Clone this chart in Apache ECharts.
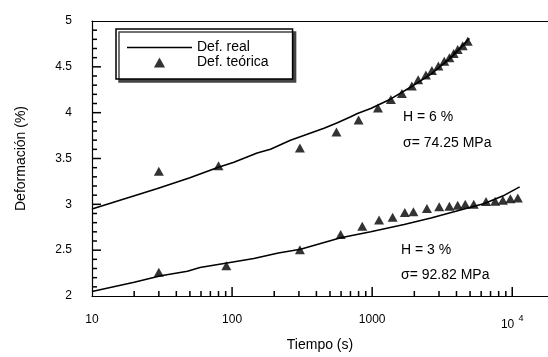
<!DOCTYPE html>
<html><head><meta charset="utf-8">
<script src="https://cdn.jsdelivr.net/npm/echarts@6/dist/echarts.min.js"></script>
<style>html,body{margin:0;padding:0;background:#fff}#c{width:548px;height:357px}</style>
</head><body><div id="c"></div>
<script>
// ---- data ----
const xLabelValues = [10, 100, 1000, 10000];
const xMajorTicks = [100, 1000, 10000];
const xMinorTicks = [20, 30, 40, 50, 60, 70, 80, 90, 200, 300, 400, 500, 600, 700, 800, 900, 2000, 3000, 4000, 5000, 6000, 7000, 8000, 9000];
const yMajorTicks = [2.5, 3, 3.5, 4, 4.5];
const yMinorTicks = [2.1, 2.2, 2.3, 2.4, 2.6, 2.7, 2.8, 2.9, 3.1, 3.2, 3.3, 3.4, 3.6, 3.7, 3.8, 3.9, 4.1, 4.2, 4.3, 4.4, 4.6, 4.7, 4.8, 4.9];

const realHighT = [10, 29, 50, 78, 103, 151, 188, 261, 453, 565, 703, 785, 977, 1359, 1888, 2630, 3657, 4945];
const realHighV = [2.95, 3.17, 3.29, 3.40, 3.46, 3.56, 3.60, 3.70, 3.83, 3.89, 3.955, 3.99, 4.045, 4.15, 4.28, 4.42, 4.60, 4.81];
const theoHighT = [30, 80, 305, 556, 800, 1100, 1360, 1630, 1920, 2130, 2420, 2670, 2970, 3270, 3560, 3820, 4080, 4430, 4810];
const theoHighV = [3.36, 3.42, 3.615, 3.79, 3.92, 4.05, 4.145, 4.21, 4.29, 4.36, 4.41, 4.46, 4.51, 4.56, 4.60, 4.645, 4.69, 4.73, 4.78];

const realLowT = [10, 20, 31, 48, 59, 92, 143, 214, 308, 596, 977, 1690, 2630, 4080, 6330, 8800, 11300];
const realLowV = [2.05, 2.15, 2.22, 2.27, 2.31, 2.36, 2.41, 2.47, 2.51, 2.635, 2.70, 2.78, 2.85, 2.93, 3.01, 3.10, 3.19];
const theoLowT = [30, 91, 305, 596, 850, 1120, 1400, 1710, 1970, 2460, 3010, 3560, 4080, 4620, 5310, 6500, 7550, 8570, 9700, 10960];
const theoLowV = [2.26, 2.33, 2.505, 2.67, 2.76, 2.83, 2.86, 2.91, 2.92, 2.955, 2.975, 2.98, 2.99, 3.0, 3.0, 3.03, 3.035, 3.045, 3.06, 3.07];

const zip = (a, b) => a.map((v, i) => [v, b[i]]);
const FONT = '"Liberation Sans", Arial, Helvetica, sans-serif';
const X_MIN = 10, X_MAX = 18000, Y_MIN = 2, Y_MAX = 5;

const chart = echarts.init(document.getElementById('c'), null, {renderer: 'canvas'});
const lineS = (data) => ({
  type: 'line', name: 'Def. real', data, symbol: 'none', showSymbol: false, smooth: false,
  lineStyle: {color: '#000', width: 1.6}, itemStyle: {color: '#000'}, z: 3
});
const scatS = (data) => ({
  type: 'scatter', name: 'Def. teórica', data, symbol: 'triangle', symbolSize: [10, 9],
  itemStyle: {color: '#000'}, z: 4
});
// tick marks placed through the axis scales (custom series)
const tickSeries = (data, dx, dy) => ({
  type: 'custom', silent: true, clip: false, z: 6, legendHoverLink: false,
  data,
  renderItem: (params, api) => {
    const p = api.coord([api.value(0), api.value(1)]);
    return {type: 'line', shape: {x1: p[0], y1: p[1], x2: p[0] + dx, y2: p[1] + dy},
            style: {stroke: '#000', lineWidth: 1.5}};
  }
});

chart.setOption({
  animation: false,
  backgroundColor: '#fff',
  textStyle: {fontFamily: FONT},
  grid: {left: 92, right: 0, top: 21, bottom: 56, containLabel: false},
  legend: {
    orient: 'vertical', left: 116, top: 29,
    padding: [11, 24, 9, 11], itemGap: 0, itemWidth: 65, itemHeight: 10,
    backgroundColor: '#fff', borderColor: '#000', borderWidth: 1.5, borderRadius: 0,
    shadowColor: '#444', shadowBlur: 0, shadowOffsetX: 3, shadowOffsetY: 3,
    symbolKeepAspect: true,
    textStyle: {color: '#000', fontSize: 14, fontFamily: FONT, lineHeight: 15},
    data: [
      {name: 'Def. real', icon: 'path://M0,0h65v1.6h-65z', itemStyle: {color: '#000'}},
      {name: 'Def. teórica', icon: 'path://M5,0L10,9L0,9Z', itemStyle: {color: '#000'}}
    ]
  },
  xAxis: [
    {
      type: 'log', logBase: 10, min: X_MIN, max: X_MAX, position: 'bottom',
      axisLine: {lineStyle: {color: '#000', width: 1.2}},
      axisTick: {show: false},
      axisLabel: {
        customValues: xLabelValues, margin: 18, color: '#000', fontSize: 12, fontFamily: FONT,
        formatter: (v) => v >= 10000 ? '10 {sup|4}' : String(Math.round(v)),
        rich: {sup: {fontSize: 9, fontFamily: FONT, color: '#000', padding: [0, 0, 12, 1]}}
      },
      splitLine: {show: false},
      name: 'Tiempo (s)', nameLocation: 'middle', nameGap: 42,
      nameTextStyle: {color: '#000', fontSize: 14, fontFamily: FONT}
    },
    {
      type: 'log', logBase: 10, min: X_MIN, max: X_MAX, position: 'top',
      axisLine: {lineStyle: {color: '#000', width: 1.2}},
      axisTick: {show: false}, axisLabel: {show: false}, splitLine: {show: false}
    }
  ],
  yAxis: {
    type: 'value', min: Y_MIN, max: Y_MAX, interval: 0.5, position: 'left',
    axisLine: {show: true, lineStyle: {color: '#000', width: 1.2}},
    axisTick: {show: false},
    axisLabel: {margin: 20, color: '#000', fontSize: 12, fontFamily: FONT},
    splitLine: {show: false},
    name: 'Deformación (%)', nameLocation: 'middle', nameGap: 64,
    nameTextStyle: {color: '#000', fontSize: 14, fontFamily: FONT}
  },
  graphic: [
    {type: 'text', x: 403, y: 117, style: {text: 'H = 6 %', fontSize: 14, fontFamily: FONT, fill: '#000', verticalAlign: 'middle'}},
    {type: 'text', x: 403, y: 143, style: {text: 'σ= 74.25 MPa', fontSize: 14, fontFamily: FONT, fill: '#000', verticalAlign: 'middle'}},
    {type: 'text', x: 401, y: 250, style: {text: 'H = 3 %', fontSize: 14, fontFamily: FONT, fill: '#000', verticalAlign: 'middle'}},
    {type: 'text', x: 401, y: 275, style: {text: 'σ= 92.82 MPa', fontSize: 14, fontFamily: FONT, fill: '#000', verticalAlign: 'middle'}}
  ],
  series: [
    lineS(zip(realHighT, realHighV)),
    lineS(zip(realLowT, realLowV)),
    scatS(zip(theoHighT, theoHighV)),
    scatS(zip(theoLowT, theoLowV)),
    tickSeries(xMajorTicks.map(v => [v, Y_MIN]), 0, -9),
    tickSeries(xMinorTicks.map(v => [v, Y_MIN]), 0, -5),
    tickSeries(yMajorTicks.map(v => [X_MIN, v]), 9, 0),
    tickSeries(yMinorTicks.map(v => [X_MIN, v]), 5, 0)
  ]
});
</script>
</body></html>
